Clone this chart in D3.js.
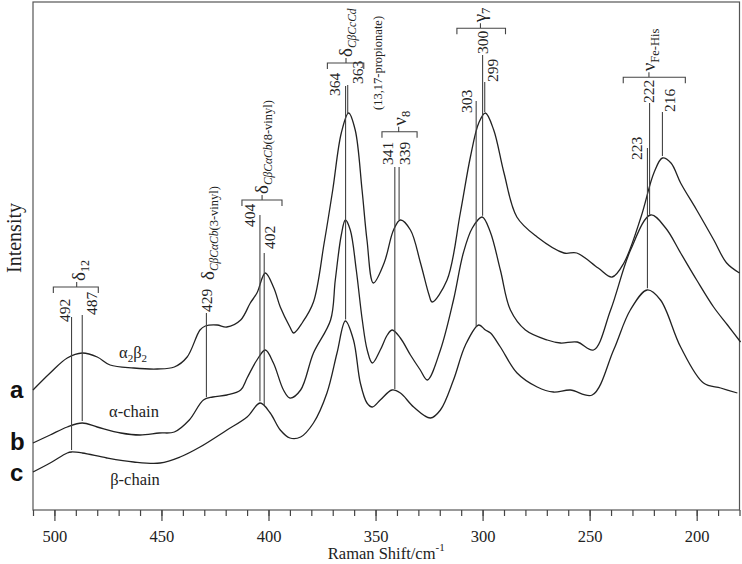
<!DOCTYPE html>
<html><head><meta charset="utf-8">
<script src="https://cdn.jsdelivr.net/npm/d3@7"></script>
<style>
body{margin:0;background:#fff}svg{display:block}
svg text{font-family:"Liberation Serif","DejaVu Serif","Noto Serif",serif;fill:#222}
svg text.sans{font-family:"Liberation Sans","DejaVu Sans",Arial,sans-serif;fill:#111}
</style>
</head><body><svg id="c" width="742" height="564"></svg>
<script>
// ---- data (Raman shift in cm-1, intensity in arbitrary units) ----
const shiftA = [510,502,494,487,480,474,463,452,444,438,432,429.5,424,419.5,413,408.5,405.4,401.5,397.5,394.5,390,388.3,384,379,374,370,366,362.6,359.5,356.3,354,351,346,341.6,338.4,333.7,329,325,323.6,316.6,310.4,305.7,301.8,298.7,294.8,290,284,274.5,262,256,246,239.5,234,226,220,216,212,207.5,200,192,186,180];
const intenA = [120,137,152,157,153,145,142,141,143,153,180,184,185,183,190,207,217,237,222,203,183,177,188,208,267,320,377,397,380,320,270,227,247,280,290,280,247,215,208,230,297,353,387,397,380,337,293,273,257,257,242,233,247,293,337,352,347,327,300,270,247,237];

const shiftB = [510,502,494,487,480,469,460,451,444,437,430.4,426,419.4,413,410,405.4,401.5,397.7,393,390,385,379,371,368.8,366,364.1,361.8,359,356.2,353.9,351.5,347.8,344.5,342.2,338.4,333.7,329.1,325.8,319.7,313.6,309,304.8,300.2,296.4,291.7,287,280,269.8,263.6,255.8,248.2,240.2,230.9,221.5,214.5,207.5,200,192.1,185.6,179.5];
const intenB = [67,75,83,87,83,77,75,77,78,90,110,113,115,120,132,150,160,147,120,112,120,157,190,230,275,290,280,240,190,160,147,160,175,180,172,155,140,130,160,210,257,282,293,278,240,200,180,170,167,168,160,200,260,295,282,257,230,203,185,168];

const shiftC = [510,502,494,492,487,475.5,463,450.6,441.3,432,419.4,410,403.9,399.2,394.5,390,385,379,372.7,368,364.1,360.3,357.1,354,351.5,347.8,342.3,338.4,332.2,324.4,319.7,313.6,308,301.8,298.7,296.3,291.7,283.9,274.5,266.9,259,248.8,238.8,231,223.1,216.9,207.5,196.8,188.8,181];
const intenC = [38,47,57,58,57,52,48,47,53,63,80,93,107,97,80,72,73,87,117,157,189,170,127,107,103,110,120,117,103,92,100,130,165,185,180,177,163,137,123,118,120,115,160,200,220,210,163,127,122,117];

const traceNames = ["α₂β₂","α-chain","β-chain"];
const traceLetters = ["a","b","c"];

const peakShifts = [492,487,429,404,402,364,363,341,339,303,300,299,223,222,216];
const peakLabels = ["492","487","429","404","402","364","363","341","339","303","300","299","223","222","216"];
const peakTrace  = ["c","b","b","c","c","c","a","c","a","c","b","a","c","b","a"];

const majorTicks = [500,450,400,350,300,250,200];
const minorTicks = d3.range(180,511,10);
const xDomain = [510,180];
const yDomain = [0,508];

// ---- drawing ----
const svg = d3.select('#c');
const L=33, R=739.5, T=2, B=510;
const x = d3.scaleLinear().domain(xDomain).range([L,R]);
const y = d3.scaleLinear().domain(yDomain).range([B,T]);

const traces = {
  a: d3.zip(shiftA,intenA),
  b: d3.zip(shiftB,intenB),
  c: d3.zip(shiftC,intenC)
};

function valueAt(tr, v){
  const d = traces[tr];
  for(let i=0;i<d.length-1;i++){
    const [v0,i0]=d[i],[v1,i1]=d[i+1];
    if(v<=v0 && v>=v1){ const t=(v0-v)/(v0-v1); return i0+(i1-i0)*t; }
  }
  return d[d.length-1][1];
}

// frame
svg.append('rect').attr('x',L).attr('y',T).attr('width',R-L).attr('height',B-T)
  .attr('fill','none').attr('stroke','#555').attr('stroke-width',1.2);

// axes
svg.append('g').attr('transform',`translate(0,${B})`)
  .call(d3.axisBottom(x).tickValues(minorTicks).tickSize(6).tickFormat(''));
const gMajor = svg.append('g').attr('transform',`translate(0,${B})`)
  .call(d3.axisBottom(x).tickValues(majorTicks).tickSize(11).tickPadding(9).tickFormat(d3.format('d')));
svg.selectAll('.domain').remove();
svg.selectAll('.tick line').attr('stroke','#444').attr('stroke-width',1.2);
gMajor.selectAll('text').attr('font-size',16.5);

// axis titles
const xt = svg.append('text').attr('x',(L+R)/2).attr('y',559).attr('text-anchor','middle')
  .attr('font-size',16.5);
xt.append('tspan').text('Raman Shift/cm');
xt.append('tspan').attr('font-size',11).attr('dy',-8).text('-1');

svg.append('text').attr('transform','translate(21,238) rotate(-90)').attr('text-anchor','middle')
  .attr('font-size',20).text('Intensity');

// curves
const line = d3.line().x(d=>x(d[0])).y(d=>y(d[1])).curve(d3.curveCatmullRom.alpha(0.5));
['a','b','c'].forEach(k=>{
  svg.append('path').attr('d',line(traces[k])).attr('fill','none')
    .attr('stroke','#222').attr('stroke-width',1.3);
});

// trace letters & names
const letterBase = [398,450,481];
traceLetters.forEach((t,i)=>{
  svg.append('text').attr('class','sans').attr('x',10).attr('y',letterBase[i])
    .attr('font-weight','bold').attr('font-size',24).text(t);
});
const nameBase = [[133,358],[134,417],[135,485]];
{
  const t = svg.append('text').attr('x',nameBase[0][0]).attr('y',nameBase[0][1]).attr('text-anchor','middle')
    .attr('font-size',16.5);
  t.append('tspan').text('α');
  t.append('tspan').attr('font-size',11).attr('dy',4).text('2');
  t.append('tspan').attr('dy',-4).text('β');
  t.append('tspan').attr('font-size',11).attr('dy',4).text('2');
}
[1,2].forEach(i=>{
  svg.append('text').attr('x',nameBase[i][0]).attr('y',nameBase[i][1]).attr('text-anchor','middle')
    .attr('font-size',16.5).text(traceNames[i]);
});

// peak marker lines and labels
const labelDx     = [-1.5,15,6,-4.5,11,-6,15.5,-1.5,11,-4,5,13.5,-5,4,13];
const labelBottom = [322,315,312,227,249,96,84,165,165,113,54,82,160,103,112];
const lineTop     = [317,315,313,215,253,86,85,167,167,101,55,82,148,103,112];
peakShifts.forEach((v,i)=>{
  const px = x(v);
  const yEnd = y(valueAt(peakTrace[i], v)) - 2;
  svg.append('line').attr('x1',px).attr('x2',px).attr('y1',lineTop[i]).attr('y2',yEnd)
    .attr('stroke','#444').attr('stroke-width',1.1);
  svg.append('text').attr('transform',`translate(${px+labelDx[i]},${labelBottom[i]}) rotate(-90)`)
    .attr('font-size',15.5).text(peakLabels[i]);
});

// rotated rich text helper
function vtext(px, py, parts){
  const t = svg.append('text').attr('transform',`translate(${px},${py}) rotate(-90)`);
  let cur=0;
  parts.forEach(p=>{
    const sh = p.sub?4:0;
    t.append('tspan').attr('font-size',p.s).attr('dy',sh-cur).attr('font-style',p.i?'italic':null).text(p.t);
    cur=sh;
  });
  return t;
}
// bracket helper (span in cm-1, y in px)
function bracket(v0,v1,vc,yy){
  const x0=x(v0),x1=x(v1),xc=x(vc);
  svg.append('path').attr('d',`M${x0},${yy+6}V${yy}H${x1}V${yy+6}M${xc},${yy}V${yy-5}`)
    .attr('fill','none').attr('stroke','#444').attr('stroke-width',1.1);
  return [xc,yy-5];
}

let p;
p = bracket(500.5,479.5,489.6,287);
vtext(p[0]+8,p[1]-1,[{t:'δ',s:19},{t:'12',s:12,sub:true}]);

vtext(214,280,[{t:'δ',s:19},{t:'CβCαCb',s:11.5,sub:true,i:true},{t:'(3-vinyl)',s:12.5,sub:true}]);

p = bracket(412.4,393.7,403,200);
vtext(p[0]+6,p[1]-1,[{t:'δ',s:19},{t:'CβCαCb',s:11.5,sub:true,i:true},{t:'(8-vinyl)',s:12.5,sub:true}]);

p = bracket(372.5,355.5,363.8,63);
vtext(p[0]+6,p[1]-1,[{t:'δ',s:19},{t:'CβCcCd',s:11.5,sub:true,i:true}]);
vtext(382,110,[{t:'(13,17-propionate)',s:12.5}]);

p = bracket(347,330.6,339.2,131.7);
vtext(p[0]+7,p[1]-1,[{t:'ν',s:19},{t:'8',s:12.5,sub:true}]);

p = bracket(312,289.3,301,28.3);
vtext(p[0]+6,p[1]-1,[{t:'γ',s:19},{t:'7',s:12.5,sub:true}]);

p = bracket(234.3,205.3,222.3,77.3);
vtext(p[0]+6,p[1]-1,[{t:'ν',s:19},{t:'Fe-His',s:12.5,sub:true}]);
</script>
</body></html>
